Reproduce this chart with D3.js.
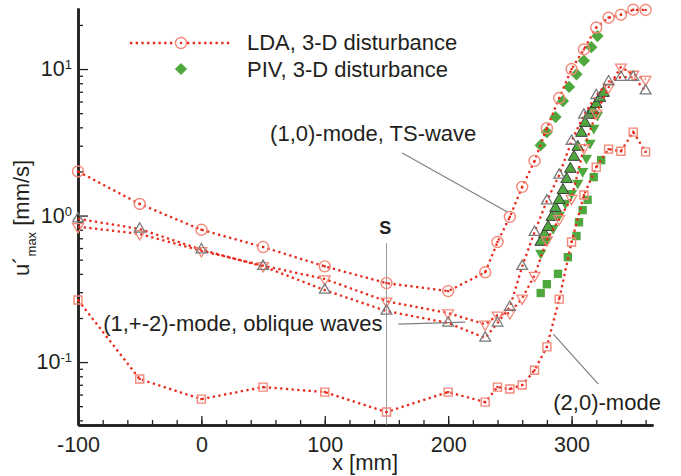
<!DOCTYPE html>
<html>
<head>
<meta charset="utf-8">
<script src="https://cdn.jsdelivr.net/npm/d3@7"></script>
<style>
  body { margin: 0; background: #fff; }
  text { font-family: "Liberation Sans", Arial, Helvetica, sans-serif; fill: #231f20; }
</style>
</head>
<body>
<div id="chart"></div>
<script>
// LDA stations [mm]
const ldaX = [-100, -50, 0, 50, 100, 150, 200, 230, 240, 250, 260, 270, 280, 290, 300, 310, 320, 330, 340, 350, 360];
// LDA amplitudes [mm/s]
const ldaTS   = [2.0, 1.2, 0.80, 0.61, 0.45, 0.346, 0.305, 0.41, 0.66, 0.98, 1.57, 2.36, 3.95, 6.34, 10.0, 13.6, 19.2, 22.4, 23.5, 25.4, 25.3];
const ldaObl1 = [0.95, 0.81, 0.585, 0.45, 0.31, 0.223, 0.185, 0.146, 0.185, 0.237, 0.45, 0.77, 1.26, 1.89, 3.22, 4.85, 6.6, 8.2, 8.8, 8.8, 7.1];
const ldaObl2 = [0.84, 0.75, 0.575, 0.455, 0.369, 0.26, 0.216, 0.181, 0.209, 0.216, 0.273, 0.39, 0.68, 0.95, 1.31, 2.9, 5.0, 7.5, 10.3, 9.2, 8.5];
const lda20   = [0.265, 0.0766, 0.0559, 0.0675, 0.0624, 0.0456, 0.0624, 0.0533, 0.0675, 0.0655, 0.0697, 0.088, 0.127, 0.269, 0.66, 1.38, 2.14, 2.84, 2.75, 3.71, 2.72];

// PIV
const pivTSX = [275, 280, 287, 293, 298, 304, 310, 316, 321];
const pivTS  = [3.02, 3.71, 4.7, 6.05, 7.55, 9.2, 11.4, 14.1, 16.8];
const pivObl1X = [275, 278, 281, 284, 287, 290, 293, 296, 299, 302, 305, 308, 311, 314, 317, 320, 323, 326];
const pivObl1  = [0.66, 0.748, 0.835, 0.977, 1.125, 1.276, 1.49, 1.77, 2.08, 2.51, 2.94, 3.66, 4.28, 4.85, 5.25, 5.77, 6.34, 6.86];
const pivObl2X = [275, 280, 285, 290, 295, 300, 305, 309, 312, 315, 318, 321];
const pivObl2  = [0.555, 0.68, 0.82, 1.01, 1.22, 1.42, 1.67, 2.01, 2.47, 3.13, 3.96, 4.85];
const piv20X = [275, 280, 289, 297, 304, 306, 309, 313, 318, 324];
const piv20  = [0.296, 0.34, 0.40, 0.52, 0.725, 0.90, 1.09, 1.28, 1.83, 2.39];

// ticks
const xMajor = [-100, 0, 100, 200, 300];
const xMinor = d3.range(-80, 361, 20);
const yMajor = [0.1, 1, 10];
const yExp = ["-1", "0", "1"];
const yMinor = [0.04, 0.05, 0.06, 0.07, 0.08, 0.09, 0.2, 0.3, 0.4, 0.5, 0.6, 0.7, 0.8, 0.9, 2, 3, 4, 5, 6, 7, 8, 9, 20];

const width = 681, height = 476;
const margin = { top: 8, right: 28, bottom: 51, left: 78 };

const red = "#e8291c", salmon = "#f28878", gray = "#7a7a7a", green = "#4ea83e";

let x = d3.scaleLinear().domain([-100, 366]).range([margin.left, width - margin.right]);
let y = d3.scaleLog().domain([0.0372, 26.1]).range([height - margin.bottom, margin.top]);

let svg = d3
  .select("#chart")
  .append("svg")
  .attr("width", width)
  .attr("height", height);

// axes, ticks pointing inward
let xAxis = svg.append("g").attr("transform", `translate(0,${y.range()[0]})`);
xAxis.call(d3.axisBottom(x).tickValues(xMinor).tickSize(-5).tickSizeOuter(0).tickFormat(""));
xAxis.append("g").call(d3.axisBottom(x).tickValues(xMajor).tickSize(-9).tickSizeOuter(0).tickPadding(12).tickFormat(d => String(d)));

let yAxis = svg.append("g").attr("transform", `translate(${x.range()[0]},0)`);
yAxis.call(d3.axisLeft(y).tickValues(yMinor).tickSize(-5).tickSizeOuter(0).tickFormat(""));
let yMaj = yAxis.append("g").call(d3.axisLeft(y).tickValues(yMajor).tickSize(-10).tickSizeOuter(0).tickPadding(6).tickFormat(""));
yMaj.selectAll(".tick text").each(function(d, i) {
  let t = d3.select(this);
  t.append("tspan").text("10");
  t.append("tspan").attr("font-size", 13).attr("dy", "-0.55em").text(yExp[i]);
});

svg.selectAll(".domain").attr("stroke", "#231f20").attr("stroke-width", 2.5);
svg.selectAll(".tick line").attr("stroke", "#231f20").attr("stroke-width", 1.3);
svg.selectAll(".tick text").attr("font-size", 21.5).attr("fill", "#231f20");

// axis titles
svg.append("text")
  .attr("x", 365).attr("y", 470)
  .attr("text-anchor", "middle")
  .attr("font-size", 22)
  .text("x [mm]");

let yt = svg.append("text")
  .attr("transform", "translate(29,276) rotate(-90)")
  .attr("font-size", 22);
yt.append("tspan").text("u\u00b4");
yt.append("tspan").attr("font-size", 13).attr("dy", 7).text("max");
yt.append("tspan").attr("dy", -7).text(" [mm/s]");

// S station line
svg.append("line")
  .attr("x1", x(150)).attr("x2", x(150))
  .attr("y1", y(0.649)).attr("y2", y.range()[0])
  .attr("stroke", "#9a9a9a").attr("stroke-width", 1);
svg.append("text")
  .attr("x", x(149)).attr("y", y(0.75))
  .attr("text-anchor", "middle")
  .attr("font-size", 18).attr("font-weight", "bold")
  .text("S");

// annotations
let notes = [
  { label: "(1,0)-mode, TS-wave", at: [55.7, 3.22], a: [162.8, 2.67], b: [248, 1.056] },
  { label: "(1,+-2)-mode, oblique waves", at: [-79.6, 0.163], a: [159.6, 0.1817], b: [213.9, 0.1875] },
  { label: "(2,0)-mode", at: [285.2, 0.047], a: [285.2, 0.155], b: [321.7, 0.0708] }
];
notes.forEach(n => {
  svg.append("line")
    .attr("x1", x(n.a[0])).attr("y1", y(n.a[1]))
    .attr("x2", x(n.b[0])).attr("y2", y(n.b[1]))
    .attr("stroke", "#808080").attr("stroke-width", 1.2);
  svg.append("text")
    .attr("x", x(n.at[0])).attr("y", y(n.at[1]))
    .attr("font-size", 22)
    .text(n.label);
});

function symbols(xs, vs, type, size, rot, fill, stroke, sw) {
  svg.append("g")
    .selectAll("path")
    .data(d3.zip(xs, vs))
    .join("path")
    .attr("transform", d => `translate(${x(d[0])},${y(d[1])}) rotate(${rot})`)
    .attr("d", d3.symbol(type, size))
    .attr("fill", fill)
    .attr("stroke", stroke)
    .attr("stroke-width", sw);
}

// PIV markers
symbols(pivTSX, pivTS, d3.symbolSquare, 75, 45, green, "none", 0);
symbols(piv20X, piv20, d3.symbolSquare, 70, 0, green, "none", 0);
symbols(pivObl2X, pivObl2, d3.symbolTriangle, 55, 180, green, "none", 0);
symbols(pivObl1X, pivObl1, d3.symbolTriangle, 58, 0, green, "#3d3d3d", 1);

// LDA dotted lines
let line = d3.line().x(d => x(d[0])).y(d => y(d[1]));
[ldaTS, ldaObl1, ldaObl2, lda20].forEach(vs => {
  svg.append("path")
    .datum(d3.zip(ldaX, vs))
    .attr("d", line)
    .attr("fill", "none")
    .attr("stroke", red)
    .attr("stroke-width", 2.3)
    .attr("stroke-dasharray", "2.3 3.4");
});

// LDA markers
symbols(ldaX, ldaTS, d3.symbolCircle, 95, 0, "none", salmon, 1.4);
symbols(ldaX, lda20, d3.symbolSquare, 64, 0, "none", salmon, 1.4);
symbols(ldaX, ldaObl2, d3.symbolTriangle, 50, 180, "none", salmon, 1.3);
symbols(ldaX, ldaObl1, d3.symbolTriangle, 50, 0, "none", gray, 1.3);
[ldaTS, lda20].forEach(vs => {
  svg.append("g")
    .selectAll("rect")
    .data(d3.zip(ldaX, vs))
    .join("rect")
    .attr("x", d => x(d[0]) - 1.1).attr("y", d => y(d[1]) - 1.1)
    .attr("width", 2.2).attr("height", 2.2)
    .attr("fill", red);
});

// legend
let lg = svg.append("g");
lg.append("line")
  .attr("x1", 130).attr("x2", 232).attr("y1", 43).attr("y2", 43)
  .attr("stroke", red).attr("stroke-width", 2.3).attr("stroke-dasharray", "2.3 3.4");
lg.append("circle").attr("cx", 181).attr("cy", 43).attr("r", 5.5)
  .attr("fill", "#fff").attr("stroke", salmon).attr("stroke-width", 1.4);
lg.append("rect").attr("x", 179.9).attr("y", 41.9).attr("width", 2.2).attr("height", 2.2).attr("fill", red);
lg.append("path").attr("transform", "translate(181,69) rotate(45)")
  .attr("d", d3.symbol(d3.symbolSquare, 75)).attr("fill", green);
lg.append("text").attr("x", 247).attr("y", 50).attr("font-size", 22).text("LDA, 3-D disturbance");
lg.append("text").attr("x", 247).attr("y", 77).attr("font-size", 22).text("PIV, 3-D disturbance");
</script>
</body>
</html>
